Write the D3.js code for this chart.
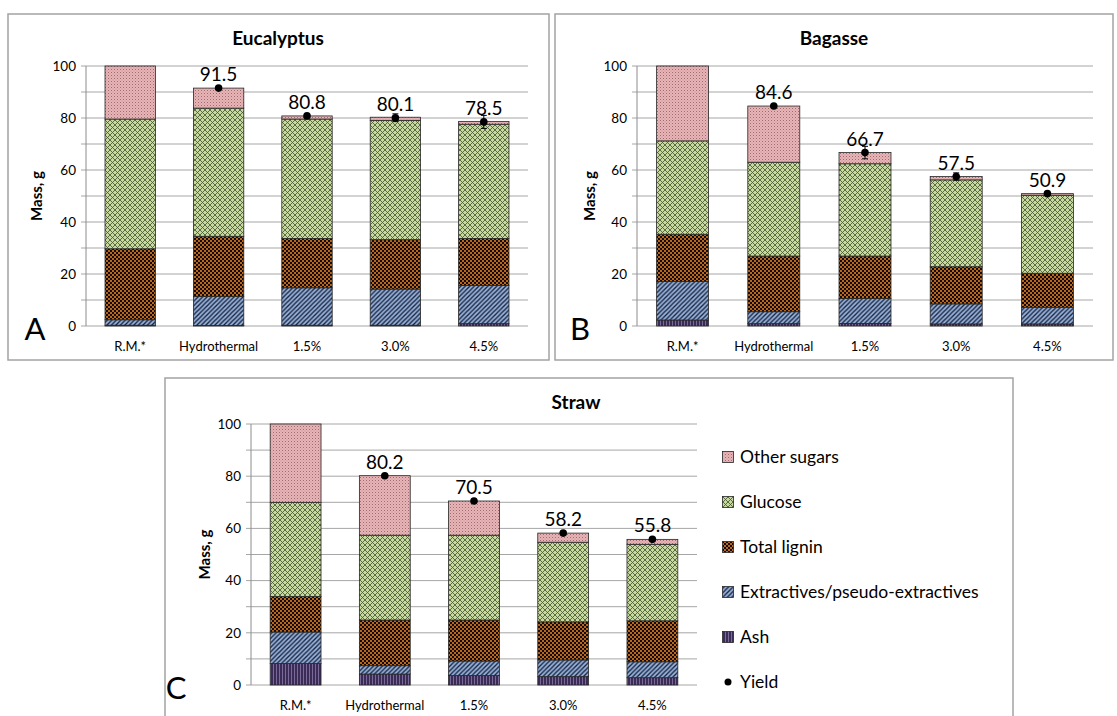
<!DOCTYPE html>
<html>
<head>
<meta charset="utf-8">
<script src="https://cdn.jsdelivr.net/npm/d3@7/dist/d3.min.js"></script>
<style>
  body { margin: 0; background: #fff; }
  svg { display: block; }
  text { font-family: Lato, "Open Sans", sans-serif; fill: #000; }
</style>
</head>
<body>
<svg width="1117" height="716"></svg>
<script>
// categories shared by all three panels
const categories = ["R.M.*", "Hydrothermal", "1.5%", "3.0%", "4.5%"];
// stack order, bottom to top
const components = ["ash", "extractives", "lignin", "glucose", "other"];
const componentNames = {
  other: "Other sugars",
  glucose: "Glucose",
  lignin: "Total lignin",
  extractives: "Extractives/pseudo-extractives",
  ash: "Ash"
};
const yTicks = [0, 20, 40, 60, 80, 100];

// Eucalyptus (segment heights, g)
const eucAsh         = [0.3, 0.2, 0.3, 0.3, 0.9];
const eucExtractives = [2.1, 11.2, 14.4, 13.9, 14.7];
const eucLignin      = [27.3, 23.1, 19.0, 19.0, 18.1];
const eucGlucose     = [49.9, 49.3, 45.9, 45.9, 43.9];
const eucOther       = [20.4, 7.7, 1.2, 1.2, 1.1];
const eucYield       = [null, 91.5, 80.8, 80.1, 78.5];
const eucYieldErr    = [0, 0.4, 0.6, 1.5, 2.5];

// Bagasse
const bagAsh         = [2.3, 0.9, 1.0, 0.8, 0.8];
const bagExtractives = [14.8, 4.6, 9.6, 7.7, 6.4];
const bagLignin      = [18.2, 21.4, 16.3, 14.3, 13.1];
const bagGlucose     = [35.9, 36.1, 35.5, 33.4, 30.0];
const bagOther       = [28.8, 21.6, 4.3, 1.3, 0.6];
const bagYield       = [null, 84.6, 66.7, 57.5, 50.9];
const bagYieldErr    = [0, 0.4, 2.4, 1.4, 0.5];

// Straw
const strAsh         = [8.2, 4.2, 3.6, 3.2, 2.8];
const strExtractives = [12.1, 3.2, 5.6, 6.4, 6.1];
const strLignin      = [13.6, 17.5, 15.7, 14.6, 15.7];
const strGlucose     = [36.1, 32.5, 32.5, 30.5, 29.3];
const strOther       = [30.0, 22.8, 13.1, 3.5, 1.9];
const strYield       = [null, 80.2, 70.5, 58.2, 55.8];
const strYieldErr    = [0, 0.4, 0.5, 0.6, 0.5];

const svg = d3.select("svg");
const defs = svg.append("defs");

// ---- fill patterns ----
function makePattern(id, size, bg, draw) {
  const p = defs.append("pattern")
    .attr("id", id)
    .attr("patternUnits", "userSpaceOnUse")
    .attr("width", size)
    .attr("height", size);
  p.append("rect").attr("width", size).attr("height", size).attr("fill", bg);
  draw(p, size);
}

makePattern("pat-other", 3, "#e8b5b7", (p) => {
  p.append("rect").attr("x", 0).attr("y", 0).attr("width", 1).attr("height", 1).attr("fill", "#9e6a6d");
  p.append("rect").attr("x", 1.5).attr("y", 1.5).attr("width", 1).attr("height", 1).attr("fill", "#c08b8e");
});
makePattern("pat-glucose", 5, "#c6da9f", (p, s) => {
  p.append("path").attr("d", `M0,0L${s},${s}M0,${s}L${s},0`)
    .attr("stroke", "#4a5933").attr("stroke-width", 0.85);
});
makePattern("pat-lignin", 4, "#b9661f", (p) => {
  p.append("rect").attr("x", 0).attr("y", 0).attr("width", 2).attr("height", 2).attr("fill", "#140c04");
  p.append("rect").attr("x", 2).attr("y", 2).attr("width", 2).attr("height", 2).attr("fill", "#140c04");
});
makePattern("pat-extractives", 4.5, "#97b2dc", (p, s) => {
  p.append("path").attr("d", `M-1,${s + 1}L${s + 1},-1M-1,1L1,-1M${s - 1},${s + 1}L${s + 1},${s - 1}`)
    .attr("stroke", "#17223a").attr("stroke-width", 1.35);
});
makePattern("pat-ash", 3, "#3a2c55", (p) => {
  p.append("rect").attr("x", 0).attr("y", 0).attr("width", 1).attr("height", 3).attr("fill", "#7a6a9c");
});

const fills = {
  other: "url(#pat-other)",
  glucose: "url(#pat-glucose)",
  lignin: "url(#pat-lignin)",
  extractives: "url(#pat-extractives)",
  ash: "url(#pat-ash)"
};

// ---- one panel ----
function drawPanel(cfg) {
  const g = svg.append("g");

  g.append("rect")
    .attr("x", cfg.frame[0]).attr("y", cfg.frame[1])
    .attr("width", cfg.frame[2]).attr("height", cfg.frame[3])
    .attr("fill", "none").attr("stroke", "#a3a3a3").attr("stroke-width", 1.5);

  const x = d3.scaleBand()
    .domain(categories)
    .range([cfg.left, cfg.right])
    .paddingInner(0.43)
    .paddingOuter(0.215);

  const y = d3.scaleLinear().domain([0, 100]).range([cfg.bottom, cfg.top]);

  // gridlines every 10
  g.append("g").selectAll("line")
    .data(d3.range(0, 101, 10))
    .join("line")
    .attr("x1", cfg.left - 5).attr("x2", cfg.right)
    .attr("y1", d => y(d)).attr("y2", d => y(d))
    .attr("stroke", "#a6a6a6").attr("stroke-width", 1);

  g.append("line")
    .attr("x1", cfg.left).attr("x2", cfg.left)
    .attr("y1", cfg.top).attr("y2", cfg.bottom)
    .attr("stroke", "#8c8c8c");

  // y tick labels
  const yAxis = g.append("g")
    .attr("transform", `translate(${cfg.left - 6},0)`)
    .call(d3.axisLeft(y).tickValues(yTicks).tickSize(0).tickPadding(4));
  yAxis.select(".domain").remove();
  yAxis.selectAll("text")
    .style("font-family", "Lato, 'Open Sans', sans-serif")
    .style("font-size", "13.5px")
    .attr("fill", "#333");

  // x labels
  const xAxis = g.append("g")
    .attr("transform", `translate(0,${cfg.bottom})`)
    .call(d3.axisBottom(x).tickSize(0).tickPadding(16));
  xAxis.select(".domain").remove();
  xAxis.selectAll("text")
    .style("font-family", "Lato, 'Open Sans', sans-serif")
    .style("font-size", "13px")
    .attr("fill", "#333");

  // stacked bars
  const rows = categories.map((c, i) => {
    const r = { cat: c };
    components.forEach(k => { r[k] = cfg.values[k][i]; });
    return r;
  });
  const series = d3.stack().keys(components)(rows);

  g.append("g").selectAll("g")
    .data(series)
    .join("g")
    .attr("fill", d => fills[d.key])
    .selectAll("rect")
    .data(d => d)
    .join("rect")
    .attr("x", d => x(d.data.cat))
    .attr("width", x.bandwidth())
    .attr("y", d => y(d[1]))
    .attr("height", d => y(d[0]) - y(d[1]))
    .attr("stroke", "#262626")
    .attr("stroke-width", 0.8);

  // yield points with error bars and labels
  const pts = categories.map((c, i) => ({ cat: c, v: cfg.yieldVals[i], e: cfg.yieldErr[i] }))
    .filter(d => d.v != null);

  const pg = g.append("g").selectAll("g").data(pts).join("g");
  const cx = d => x(d.cat) + x.bandwidth() / 2;
  pg.filter(d => d.e > 0.3).append("path")
    .attr("d", d => `M${cx(d) - 3},${y(d.v + d.e)}H${cx(d) + 3}M${cx(d)},${y(d.v + d.e)}V${y(d.v - d.e)}M${cx(d) - 3},${y(d.v - d.e)}H${cx(d) + 3}`)
    .attr("stroke", "#000").attr("stroke-width", 1).attr("fill", "none");
  pg.append("circle")
    .attr("cx", cx).attr("cy", d => y(d.v))
    .attr("r", 3.8).attr("fill", "#000");
  pg.append("text")
    .attr("x", cx).attr("y", d => y(d.v) - 7)
    .attr("text-anchor", "middle")
    .style("font-size", "19px")
    .text(d => d.v.toFixed(1));

  // title, axis title, panel letter
  g.append("text")
    .attr("x", cfg.titleX).attr("y", cfg.frame[1] + 31)
    .attr("text-anchor", "middle")
    .style("font-size", "19px").style("font-weight", "bold")
    .text(cfg.title);

  g.append("text")
    .attr("transform", `translate(${cfg.yLabelX},${(cfg.top + cfg.bottom) / 2}) rotate(-90)`)
    .attr("text-anchor", "middle")
    .attr("dy", "0.35em")
    .style("font-size", "15px").style("font-weight", "bold")
    .text("Mass, g");

  g.append("text")
    .attr("x", cfg.letterX).attr("y", cfg.bottom + 14)
    .attr("text-anchor", "middle")
    .style("font-size", "31px")
    .text(cfg.letter);
}

drawPanel({
  title: "Eucalyptus", letter: "A",
  frame: [8, 14, 541, 346],
  left: 86, right: 528, top: 66, bottom: 326,
  titleX: 278, yLabelX: 37, letterX: 35,
  values: { ash: eucAsh, extractives: eucExtractives, lignin: eucLignin, glucose: eucGlucose, other: eucOther },
  yieldVals: eucYield, yieldErr: eucYieldErr
});

drawPanel({
  title: "Bagasse", letter: "B",
  frame: [555, 14, 558, 346],
  left: 637, right: 1093, top: 66, bottom: 326,
  titleX: 834, yLabelX: 590, letterX: 580,
  values: { ash: bagAsh, extractives: bagExtractives, lignin: bagLignin, glucose: bagGlucose, other: bagOther },
  yieldVals: bagYield, yieldErr: bagYieldErr
});

drawPanel({
  title: "Straw", letter: "C",
  frame: [165, 378, 848, 360],
  left: 251, right: 697, top: 424, bottom: 685,
  titleX: 576, yLabelX: 205, letterX: 176,
  values: { ash: strAsh, extractives: strExtractives, lignin: strLignin, glucose: strGlucose, other: strOther },
  yieldVals: strYield, yieldErr: strYieldErr
});

// ---- legend (inside panel C) ----
const legendItems = ["other", "glucose", "lignin", "extractives", "ash", "yield"];
const legendY = d3.scalePoint().domain(legendItems).range([457, 682]);
const lg = svg.append("g").selectAll("g")
  .data(legendItems)
  .join("g")
  .attr("transform", d => `translate(728,${legendY(d)})`);

lg.filter(d => d !== "yield").append("rect")
  .attr("x", -5.5).attr("y", -5.5).attr("width", 11).attr("height", 11)
  .attr("fill", d => fills[d]).attr("stroke", "#262626").attr("stroke-width", 0.8);
lg.filter(d => d === "yield").append("circle")
  .attr("r", 3.5).attr("fill", "#000");
lg.append("text")
  .attr("x", 12).attr("dy", "0.35em")
  .style("font-size", "17.5px")
  .text(d => d === "yield" ? "Yield" : componentNames[d]);
</script>
</body>
</html>
